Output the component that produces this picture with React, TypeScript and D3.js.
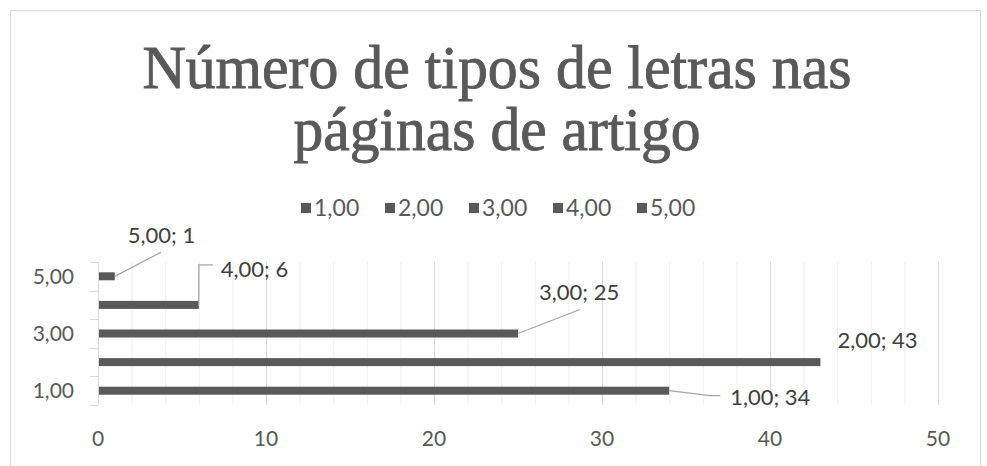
import { useEffect, useRef } from "react";
import * as d3 from "d3";

const width = 987;
const height = 466;

const categories = ["1,00", "2,00", "3,00", "4,00", "5,00"];
const values = [34, 43, 25, 6, 1];
const xTicks = [0, 10, 20, 30, 40, 50];
const yLabels = ["1,00", "3,00", "5,00"];
const titleLines = ["Número de tipos de letras nas", "páginas de artigo"];

const sans = "Lato, 'Open Sans', sans-serif";
const grey = "#595959";

const App = () => {
  const chartRef = useRef<SVGSVGElement>(null);

  useEffect(() => {
    drawChart();
  }, []);

  const drawChart = () => {
    const svg = d3.select(chartRef.current);
    svg.selectAll("*").remove();

    // outer frame (bottom edge is cut off in the reference)
    svg.append("rect")
      .attr("x", 10.5).attr("y", 10.5)
      .attr("width", 970).attr("height", 480)
      .attr("fill", "#fff")
      .attr("stroke", "#d9d9d9");

    // title
    svg.selectAll(".title")
      .data(titleLines)
      .enter().append("text")
      .attr("class", "title")
      .attr("x", 497)
      .attr("y", (d, i) => 88 + i * 62)
      .attr("text-anchor", "middle")
      .attr("fill", grey)
      .attr("stroke", grey)
      .attr("stroke-width", 0.9)
      .attr("font-family", "'Liberation Serif', serif")
      .attr("font-size", 62)
      .attr("textLength", (d, i) => (i === 0 ? 709 : 407))
      .attr("lengthAdjust", "spacingAndGlyphs")
      .text(d => d);

    // legend
    const legend = svg.selectAll(".legend")
      .data(categories)
      .enter().append("g")
      .attr("class", "legend")
      .attr("transform", (d, i) => `translate(${301 + i * 84},208)`);
    legend.append("rect")
      .attr("x", 0).attr("y", -5)
      .attr("width", 10).attr("height", 10)
      .attr("fill", grey);
    legend.append("text")
      .attr("x", 13).attr("dy", "0.36em")
      .attr("fill", grey)
      .attr("font-family", sans)
      .attr("font-size", 23)
      .text(d => d);

    const x = d3.scaleLinear().domain([0, 50]).range([98, 938]);
    const y = d3.scaleBand()
      .domain(categories.slice().reverse())
      .range([262, 405]);

    // gridlines: minor every 2, major every 10
    const minor = d3.range(2, 51, 2).filter(v => v % 10 !== 0);
    svg.append("g").selectAll("line")
      .data(minor)
      .enter().append("line")
      .attr("x1", d => x(d) + 0.5).attr("x2", d => x(d) + 0.5)
      .attr("y1", 262).attr("y2", 405)
      .attr("stroke", "#f0f0f0");
    svg.append("g").selectAll("line")
      .data(xTicks.slice(1))
      .enter().append("line")
      .attr("x1", d => x(d) + 0.5).attr("x2", d => x(d) + 0.5)
      .attr("y1", 262).attr("y2", 405)
      .attr("stroke", "#d9d9d9");

    // y axis line + ticks at band edges
    svg.append("line")
      .attr("x1", 98.5).attr("x2", 98.5)
      .attr("y1", 262).attr("y2", 405)
      .attr("stroke", "#d9d9d9");
    const edges = categories.map(c => y(c)!).concat([405]);
    svg.append("g").selectAll("line")
      .data(edges)
      .enter().append("line")
      .attr("x1", 90).attr("x2", 98)
      .attr("y1", d => Math.round(d) + 0.5).attr("y2", d => Math.round(d) + 0.5)
      .attr("stroke", "#d9d9d9");

    // x tick labels
    svg.append("g").selectAll("text")
      .data(xTicks)
      .enter().append("text")
      .attr("x", d => x(d))
      .attr("y", 438)
      .attr("dy", "0.36em")
      .attr("text-anchor", "middle")
      .attr("fill", grey)
      .attr("font-family", sans)
      .attr("font-size", 21)
      .text(d => d);

    // y labels
    svg.append("g").selectAll("text")
      .data(yLabels)
      .enter().append("text")
      .attr("x", 74)
      .attr("y", d => y(d)! + y.bandwidth() / 2)
      .attr("dy", "0.36em")
      .attr("text-anchor", "end")
      .attr("fill", grey)
      .attr("font-family", sans)
      .attr("font-size", 21)
      .text(d => d);

    // bars
    const barH = 8;
    const data = categories.map((c, i) => ({ cat: c, value: values[i] }));
    svg.append("g").selectAll("rect")
      .data(data)
      .enter().append("rect")
      .attr("x", x(0) + 1)
      .attr("y", d => y(d.cat)! + y.bandwidth() / 2 - barH / 2)
      .attr("width", d => x(d.value) - x(0) - 1)
      .attr("height", barH)
      .attr("fill", grey);

    // data labels, offsets from bar end
    const offsets: Record<string, { lx: number; ly: number; leader: string }> = {
      "1,00": { lx: 61, ly: 6, leader: "l 41 5 l 10 0" },
      "2,00": { lx: 17, ly: -22, leader: "" },
      "3,00": { lx: 21, ly: -41, leader: "l 62 -24" },
      "4,00": { lx: 22, ly: -36, leader: "l 0 -40 l 14 0" },
      "5,00": { lx: 13, ly: -41, leader: "l 46 -24" },
    };
    const lbl = svg.append("g").selectAll("g")
      .data(data)
      .enter().append("g");
    lbl.append("path")
      .attr("d", d => {
        const o = offsets[d.cat];
        if (!o.leader) return "";
        return `M ${x(d.value)} ${y(d.cat)! + y.bandwidth() / 2} ${o.leader}`;
      })
      .attr("fill", "none")
      .attr("stroke", "#a6a6a6")
      .attr("stroke-width", 1.3);
    lbl.append("text")
      .attr("x", d => x(d.value) + offsets[d.cat].lx)
      .attr("y", d => y(d.cat)! + y.bandwidth() / 2 + offsets[d.cat].ly)
      .attr("dy", "0.36em")
      .attr("fill", "#404040")
      .attr("font-family", sans)
      .attr("font-size", 22)
      .text(d => `${d.cat}; ${d.value}`);
  };

  return (
    <svg
      ref={chartRef}
      width={width}
      height={height}
      style={{ position: "absolute", left: 0, top: 0, background: "#fff" }}
    ></svg>
  );
};

export default App;
